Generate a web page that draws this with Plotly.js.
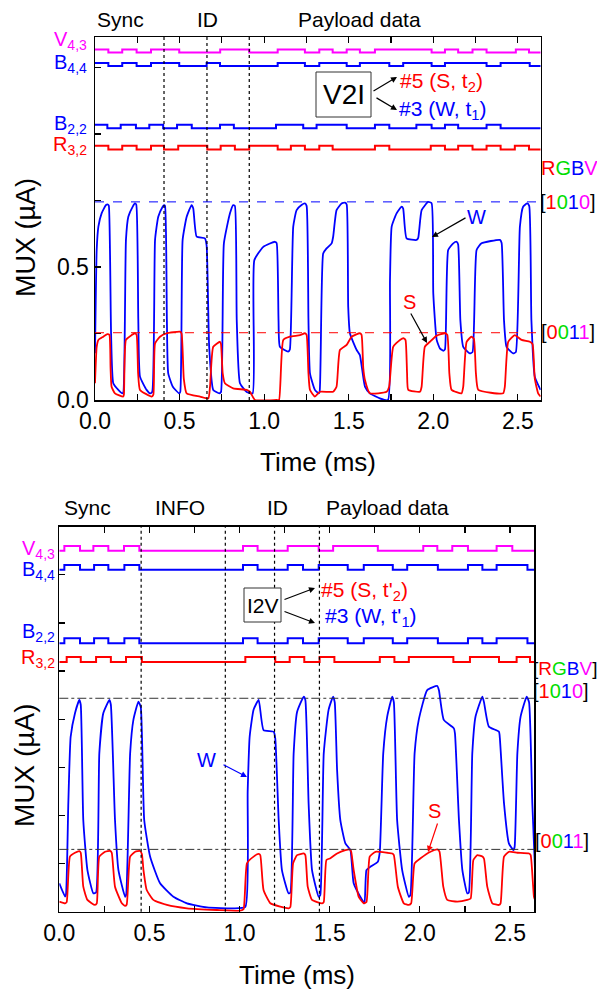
<!DOCTYPE html>
<html><head><meta charset="utf-8">
<script src="https://cdn.plot.ly/plotly-3.0.1.min.js"></script>
<style>body{margin:0;background:#fff}#chart{width:597px;height:997px}</style>
</head><body><div id="chart"></div>
<script>
// ---------- DATA ----------
// Top panel (V2I): time (ms) and MUX current (uA)
const topW_t = [0,0.010,0.020,0.039,0.065,0.077,0.082,0.095,0.108,0.138,0.162,0.168,0.183,0.197,0.223,0.236,0.244,0.256,0.266,0.305,0.325,0.338,0.355,0.374,0.400,0.408,0.414,0.425,0.433,0.460,0.497,0.504,0.518,0.542,0.571,0.581,0.601,0.650,0.660,0.675,0.699,0.735,0.745,0.762,0.798,0.817,0.827,0.838,0.857,0.897,0.932,0.942,0.995,1.064,1.074,1.085,1.093,1.142,1.152,1.172,1.192,1.221,1.241,1.251,1.262,1.271,1.300,1.322,1.328,1.349,1.369,1.399,1.408,1.428,1.458,1.478,1.488,1.497,1.507,1.547,1.566,1.596,1.625,1.684,1.732,1.744,1.754,1.783,1.813,1.822,1.842,1.901,1.911,1.931,1.970,1.990,2.000,2.020,2.039,2.059,2.069,2.088,2.118,2.138,2.147,2.160,2.177,2.216,2.232,2.256,2.285,2.394,2.404,2.418,2.433,2.472,2.488,2.512,2.531,2.555,2.567,2.580,2.600,2.634];
const topW_v = [0.176,0.564,0.652,0.702,0.733,0.735,0.730,0.250,0.063,0.038,0.025,0.030,0.602,0.689,0.727,0.739,0.735,0.300,0.088,0.038,0.025,0.030,0.602,0.689,0.727,0.733,0.730,0.300,0.100,0.050,0.025,0.030,0.602,0.689,0.733,0.720,0.614,0.608,0.580,0.200,0.038,0.025,0.030,0.589,0.702,0.733,0.730,0.300,0.063,0.030,0.025,0.526,0.576,0.595,0.590,0.300,0.200,0.182,0.190,0.652,0.714,0.733,0.739,0.730,0.300,0.100,0.038,0.025,0.030,0.551,0.570,0.589,0.614,0.714,0.739,0.742,0.735,0.350,0.251,0.188,0.169,0.050,0.025,0.006,0.000,0.450,0.652,0.702,0.727,0.720,0.608,0.602,0.610,0.714,0.745,0.740,0.400,0.226,0.194,0.185,0.190,0.564,0.589,0.595,0.585,0.300,0.200,0.175,0.180,0.564,0.589,0.602,0.590,0.300,0.200,0.175,0.180,0.652,0.727,0.739,0.730,0.300,0.088,0.038];
const topS_t = [0,0.010,0.020,0.049,0.073,0.085,0.092,0.098,0.118,0.167,0.171,0.183,0.217,0.236,0.246,0.255,0.266,0.335,0.345,0.355,0.384,0.424,0.502,0.512,0.525,0.542,0.621,0.670,0.680,0.699,0.739,0.745,0.755,0.768,0.817,0.897,0.916,0.946,1.074,1.088,1.113,1.152,1.212,1.241,1.251,1.262,1.271,1.300,1.330,1.408,1.428,1.448,1.488,1.517,1.566,1.576,1.586,1.596,1.625,1.724,1.739,1.763,1.803,1.826,1.836,1.845,1.852,1.921,1.931,1.950,1.980,2.020,2.069,2.083,2.095,2.108,2.167,2.177,2.197,2.226,2.240,2.252,2.266,2.413,2.423,2.443,2.482,2.522,2.571,2.587,2.600,2.620,2.634];
const topS_v = [0.063,0.200,0.226,0.238,0.248,0.245,0.120,0.050,0.025,0.013,0.020,0.226,0.244,0.251,0.245,0.100,0.038,0.013,0.020,0.213,0.238,0.251,0.257,0.250,0.080,0.025,0.013,0.006,0.050,0.200,0.219,0.210,0.100,0.063,0.044,0.038,0.031,0.000,0.000,0.000,0.226,0.238,0.244,0.251,0.245,0.100,0.038,0.013,0.031,0.031,0.050,0.188,0.207,0.238,0.251,0.245,0.120,0.075,0.025,0.031,0.050,0.200,0.226,0.232,0.225,0.100,0.038,0.031,0.050,0.200,0.219,0.242,0.251,0.245,0.100,0.038,0.025,0.050,0.219,0.238,0.230,0.100,0.038,0.025,0.050,0.219,0.244,0.226,0.219,0.210,0.080,0.025,0.013];

// Bottom panel (I2V)
const botW_t = [0,0.032,0.037,0.050,0.063,0.087,0.111,0.119,0.133,0.156,0.189,0.204,0.222,0.244,0.278,0.286,0.309,0.328,0.365,0.371,0.393,0.411,0.439,0.452,0.471,0.504,0.559,0.633,0.708,0.819,0.967,1.032,1.045,1.056,1.078,1.106,1.133,1.189,1.198,1.217,1.235,1.272,1.282,1.300,1.319,1.356,1.365,1.383,1.402,1.439,1.448,1.467,1.494,1.519,1.528,1.541,1.559,1.587,1.615,1.633,1.680,1.693,1.704,1.726,1.767,1.778,1.797,1.819,1.847,1.856,1.874,1.902,1.939,1.948,1.971,1.994,2.041,2.097,2.106,2.133,2.189,2.195,2.217,2.236,2.263,2.272,2.291,2.309,2.347,2.356,2.383,2.439,2.444,2.467,2.494,2.519,2.526,2.541,2.559,2.593,2.606,2.624,2.639];
const botW_v = [0.118,0.063,0.070,0.450,0.727,0.825,0.880,0.860,0.381,0.173,0.076,0.080,0.658,0.825,0.880,0.860,0.381,0.173,0.062,0.070,0.658,0.797,0.873,0.850,0.381,0.228,0.118,0.062,0.035,0.018,0.014,0.020,0.500,0.727,0.840,0.880,0.755,0.748,0.720,0.381,0.173,0.076,0.080,0.658,0.830,0.894,0.880,0.450,0.173,0.062,0.070,0.658,0.840,0.894,0.870,0.589,0.381,0.284,0.256,0.118,0.049,0.035,0.173,0.187,0.208,0.250,0.658,0.811,0.894,0.870,0.381,0.173,0.062,0.070,0.658,0.797,0.921,0.938,0.920,0.797,0.762,0.740,0.381,0.173,0.076,0.080,0.658,0.811,0.894,0.870,0.769,0.748,0.720,0.450,0.284,0.256,0.270,0.658,0.811,0.894,0.870,0.450,0.173];
const botS_t = [0,0.032,0.041,0.059,0.087,0.111,0.119,0.133,0.156,0.198,0.208,0.222,0.254,0.282,0.291,0.309,0.347,0.365,0.374,0.393,0.421,0.448,0.458,0.467,0.485,0.522,0.597,0.708,0.874,1.004,1.022,1.041,1.078,1.106,1.115,1.133,1.171,1.226,1.272,1.282,1.297,1.319,1.356,1.365,1.378,1.402,1.458,1.467,1.482,1.504,1.541,1.587,1.611,1.619,1.633,1.661,1.689,1.704,1.722,1.754,1.819,1.847,1.856,1.878,1.911,1.939,1.952,1.971,2.004,2.059,2.097,2.109,2.130,2.152,2.208,2.263,2.282,2.297,2.319,2.347,2.356,2.374,2.402,2.439,2.448,2.467,2.494,2.541,2.606,2.615,2.633,2.639];
const botS_v = [0.042,0.035,0.040,0.229,0.245,0.252,0.245,0.104,0.049,0.028,0.035,0.229,0.249,0.253,0.245,0.104,0.035,0.024,0.030,0.229,0.249,0.252,0.240,0.173,0.090,0.049,0.028,0.014,0.007,0.004,0.010,0.201,0.229,0.240,0.235,0.090,0.035,0.021,0.014,0.020,0.201,0.235,0.242,0.235,0.104,0.049,0.035,0.040,0.215,0.222,0.242,0.256,0.259,0.250,0.173,0.062,0.035,0.040,0.229,0.249,0.245,0.242,0.235,0.104,0.035,0.028,0.035,0.201,0.222,0.249,0.259,0.250,0.104,0.049,0.042,0.049,0.055,0.215,0.235,0.229,0.220,0.104,0.035,0.028,0.035,0.229,0.249,0.245,0.242,0.235,0.062,0.049];

// Digital bit streams: toggle times (ms), starting state
const topV43 = [0.079,0.161,0.246,0.331,0.498,0.740,0.912,1.080,1.241,1.326,1.405,1.488,1.566,1.655,1.990,2.069,2.147,2.232,2.315,2.488,2.566];
const topB44 = [0.079,0.161,0.246,0.331,0.498,0.660,0.739,1.080,1.241,1.326,1.488,1.566,1.740,1.822,1.990,2.069,2.315,2.398,2.570];
const topB22 = [0.073,0.152,0.242,0.321,0.403,0.485,0.572,0.739,0.821,1.070,1.231,1.310,1.488,1.655,1.740,1.900,1.990,2.069,2.147,2.315,2.398];
const topR32 = [0.079,0.161,0.246,0.331,0.408,0.492,0.664,0.743,0.827,0.912,1.080,1.158,1.241,1.326,1.405,1.655,1.740,1.985,2.069,2.147,2.232,2.315,2.398,2.482,2.566];
const botV43 = [0.028,0.115,0.189,0.272,0.359,0.444,1.019,1.100,1.267,1.439,1.519,1.767,2.019,2.097,2.180,2.267,2.426,2.513];
const botB44 = [0.028,0.115,0.193,0.272,0.361,0.444,1.019,1.100,1.267,1.352,1.439,1.600,1.689,1.850,1.930,2.100,2.267,2.347,2.426,2.597];
const botB22 = [0.028,0.115,0.193,0.272,0.361,0.444,1.019,1.100,1.267,1.352,1.439,1.600,1.689,1.850,1.930,2.100,2.267,2.347,2.426,2.597];
const botR32 = [0.041,0.119,0.204,0.286,0.370,0.458,1.032,1.198,1.278,1.359,1.444,1.526,1.778,1.859,1.939,2.186,2.278,2.439,2.537,2.611];

// digital levels (high, low) in axis units
const topLevels = {V43:[1.318,1.307], B44:[1.267,1.256], B22:[1.035,1.022], R32:[0.956,0.942]};
const botLevels = {V43:[1.520,1.500], B44:[1.441,1.421], B22:[1.136,1.116], R32:[1.059,1.038]};

const topSections = [0.408, 0.662, 0.912];      // dotted separators (ms)
const botSections = [0.454, 0.921, 1.194, 1.443];
const topRefW = 0.745, topRefS = 0.253;
const botRefW = 0.887, botRefS = 0.259;
const X_MAX = 2.635;

// ---------- BUILD ----------
const RED='#ff0000', BLUE='#0000ff', MAG='#ff00ff', GREEN='#00dd00';
const FONT='Liberation Sans, Arial, sans-serif';
const W=597, H=997;
const px=x=>x/W, py=y=>1-y/H;

function digi(trans, start, lv, xa, ya, color){
  const xs=[0], ys=[start?lv[0]:lv[1]]; let s=start;
  trans.forEach(t=>{s=1-s; xs.push(t); ys.push(s?lv[0]:lv[1]);});
  xs.push(X_MAX); ys.push(s?lv[0]:lv[1]);
  return {x:xs,y:ys,xaxis:xa,yaxis:ya,mode:'lines',line:{color:color,width:2,shape:'hv'},hoverinfo:'skip',showlegend:false};
}
function ana(t,v,xa,ya,color){
  return {x:t,y:v,xaxis:xa,yaxis:ya,mode:'lines',line:{color:color,width:1.8,shape:'spline',smoothing:0.45},hoverinfo:'skip',showlegend:false};
}
const traces=[
  digi(topV43,1,topLevels.V43,'x','y',MAG),
  digi(topB44,1,topLevels.B44,'x','y',BLUE),
  digi(topB22,1,topLevels.B22,'x','y',BLUE),
  digi(topR32,1,topLevels.R32,'x','y',RED),
  ana(topW_t,topW_v,'x','y',BLUE),
  ana(topS_t,topS_v,'x','y',RED),
  digi(botV43,0,botLevels.V43,'x2','y2',MAG),
  digi(botB44,0,botLevels.B44,'x2','y2',BLUE),
  digi(botB22,0,botLevels.B22,'x2','y2',BLUE),
  digi(botR32,0,botLevels.R32,'x2','y2',RED),
  ana(botW_t,botW_v,'x2','y2',BLUE),
  ana(botS_t,botS_v,'x2','y2',RED)
];

const xt=[0,0.25,0.5,0.75,1,1.25,1.5,1.75,2,2.25,2.5];
const xtt=xt.map(v=>(Math.round(v*100)%50===0)?v.toFixed(1):'');
const axBase={showline:true,linecolor:'#000',linewidth:1.5,ticks:'inside',ticklen:6,tickwidth:1.2,tickcolor:'#000',showgrid:false,zeroline:false,tickfont:{family:FONT,size:23,color:'#000'}};

const shapes=[];
topSections.forEach(t=>shapes.push({type:'line',xref:'x',yref:'y domain',x0:t,x1:t,y0:0,y1:1,line:{color:'#000',width:1.2,dash:'dot'}}));
botSections.forEach(t=>shapes.push({type:'line',xref:'x2',yref:'y2 domain',x0:t,x1:t,y0:0,y1:1,line:{color:'#000',width:1.2,dash:'dot'}}));
shapes.push({type:'line',xref:'x domain',yref:'y',x0:0,x1:1,y0:topRefW,y1:topRefW,line:{color:BLUE,width:1,dash:'dash'}});
shapes.push({type:'line',xref:'x domain',yref:'y',x0:0,x1:1,y0:topRefS,y1:topRefS,line:{color:RED,width:1,dash:'dash'}});
shapes.push({type:'line',xref:'x2 domain',yref:'y2',x0:0,x1:1,y0:botRefW,y1:botRefW,line:{color:'#333',width:1,dash:'dashdot'}});
shapes.push({type:'line',xref:'x2 domain',yref:'y2',x0:0,x1:1,y0:botRefS,y1:botRefS,line:{color:'#333',width:1,dash:'dashdot'}});
shapes.push({type:'rect',xref:'paper',yref:'paper',x0:px(316),x1:px(371),y0:py(117),y1:py(72),line:{color:'#333',width:1},fillcolor:'#fff'});
shapes.push({type:'rect',xref:'paper',yref:'paper',x0:px(244),x1:px(281),y0:py(622),y1:py(588),line:{color:'#333',width:1},fillcolor:'#fff'});

const ann=[];
function txt(x,y,text,size,color,xanchor){ann.push({xref:'paper',yref:'paper',x:px(x),y:py(y),text:text,showarrow:false,xanchor:xanchor||'center',yanchor:'middle',font:{family:FONT,size:size,color:color||'#000'}});}
function arrow(x0,y0,x1,y1,color){ann.push({xref:'paper',yref:'paper',x:px(x1),y:py(y1),ax:x0-x1,ay:y0-y1,text:'',showarrow:true,arrowhead:2,arrowsize:1,arrowwidth:1.2,arrowcolor:color||'#000'});}
// top panel
txt(120,20,'Sync',21); txt(207,20,'ID',21); txt(360,20,'Payload data',21);
txt(89,40,'V<sub>4,3</sub>',20,MAG,'right');
txt(89,63,'B<sub>4,4</sub>',20,BLUE,'right');
txt(89,124,'B<sub>2,2</sub>',20,BLUE,'right');
txt(89,146,'R<sub>3,2</sub>',20,RED,'right');
txt(343.5,95,'V2I',28);
txt(398,82,'#5 (S, t<sub>2</sub>)',21,RED,'left');
txt(397,110,'#3 (W, t<sub>1</sub>)',21,BLUE,'left');
arrow(372,92,397,77); arrow(375,97,397,110);
txt(569,168,'<span style="color:#ff0000">R</span><span style="color:#00dd00">G</span><span style="color:#0000ff">B</span><span style="color:#ff00ff">V</span>',20);
txt(568,202,'[<span style="color:#ff0000">1</span><span style="color:#00dd00">0</span><span style="color:#0000ff">1</span><span style="color:#ff00ff">0</span>]',20);
txt(568,332,'[<span style="color:#ff0000">0</span><span style="color:#00dd00">0</span><span style="color:#0000ff">1</span><span style="color:#ff00ff">1</span>]',20);
txt(476,217,'W',20,BLUE); arrow(467,217,432,237);
txt(409,302,'S',20,RED); arrow(410,312,427,343);
txt(318,462,'Time (ms)',26);
ann.push({xref:'paper',yref:'paper',x:px(26),y:py(238),text:'MUX (µA)',textangle:-90,showarrow:false,xanchor:'center',yanchor:'middle',font:{family:FONT,size:27,color:'#000'}});
// bottom panel
txt(87,508,'Sync',21); txt(180,508,'INFO',21); txt(277,508,'ID',21); txt(387,508,'Payload data',21);
txt(57,549,'V<sub>4,3</sub>',20,MAG,'right');
txt(57,570,'B<sub>4,4</sub>',20,BLUE,'right');
txt(57,632,'B<sub>2,2</sub>',20,BLUE,'right');
txt(57,658,'R<sub>3,2</sub>',20,RED,'right');
txt(262.5,605,'I2V',21);
txt(319,591,'#5 (S, t\'<sub>2</sub>)',21,RED,'left');
txt(323,617,'#3 (W, t\'<sub>1</sub>)',21,BLUE,'left');
arrow(283,600,315,588); arrow(283,611,315,623);
txt(565,668,'[<span style="color:#ff0000">R</span><span style="color:#00dd00">G</span><span style="color:#0000ff">B</span><span style="color:#ff00ff">V</span>]',19);
txt(561,691,'[<span style="color:#ff0000">1</span><span style="color:#00dd00">0</span><span style="color:#0000ff">1</span><span style="color:#ff00ff">0</span>]',20);
txt(562,841,'[<span style="color:#ff0000">0</span><span style="color:#00dd00">0</span><span style="color:#0000ff">1</span><span style="color:#ff00ff">1</span>]',20);
txt(206,760,'W',20,BLUE); arrow(222,764,247,777,BLUE);
txt(434,811,'S',20,RED); arrow(438,822,428,852,RED);
txt(297,975,'Time (ms)',26);
ann.push({xref:'paper',yref:'paper',x:px(24),y:py(766),text:'MUX (µA)',textangle:-90,showarrow:false,xanchor:'center',yanchor:'middle',font:{family:FONT,size:28,color:'#000'}});

const layout={
  width:W,height:H,margin:{l:0,r:0,t:0,b:0},paper_bgcolor:'#fff',plot_bgcolor:'#fff',showlegend:false,
  xaxis:Object.assign({},axBase,{domain:[px(95),px(540.7)],range:[0,X_MAX],tickvals:xt,ticktext:xtt,mirror:'ticks',anchor:'y'}),
  yaxis:Object.assign({},axBase,{domain:[py(400),py(37)],range:[0,1.365],tickvals:[0,0.25,0.5,0.75,1,1.25],ticktext:['0.0','','0.5','','',''],mirror:true,anchor:'x'}),
  xaxis2:Object.assign({},axBase,{domain:[px(59.3),px(534.3)],range:[0,X_MAX],tickvals:xt,ticktext:xtt,mirror:'ticks',anchor:'y2'}),
  yaxis2:Object.assign({},axBase,{domain:[py(911.7),py(526.7)],range:[0,1.6],tickvals:[0.2,0.4,0.6,0.8,1.0,1.2,1.4],showticklabels:false,mirror:true,anchor:'x2'}),
  shapes:shapes,annotations:ann
};
Plotly.newPlot('chart',traces,layout,{staticPlot:true,displayModeBar:false});
</script></body></html>
